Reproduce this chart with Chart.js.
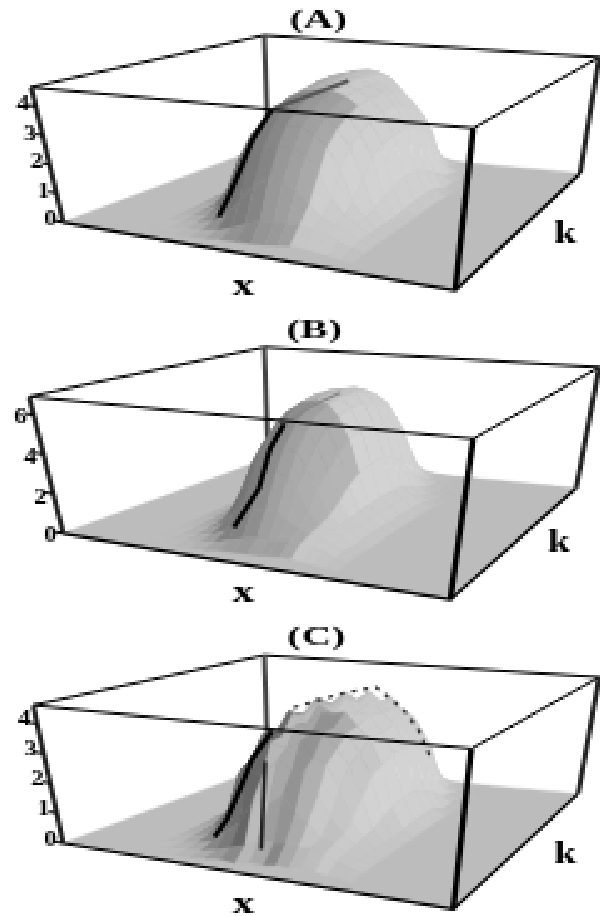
<!DOCTYPE html>
<html lang="en">
<head>
  <meta charset="UTF-8" />
  <title>Surface plots (A) (B) (C)</title>
  <script src="https://cdn.jsdelivr.net/npm/chart.js"></script>
  <style>
    html, body { margin: 0; padding: 0; background: #fff; }
    #wrap { position: relative; width: 600px; height: 916px; overflow: hidden; }
    canvas { position: absolute; left: 0; image-rendering: pixelated; }
  </style>
</head>
<body>
  <div id="wrap">
    <canvas id="panelA" width="600" height="310" style="top:0"></canvas>
    <canvas id="panelB" width="600" height="307" style="top:310px"></canvas>
    <canvas id="panelC" width="600" height="299" style="top:617px"></canvas>
  </div>

  <script>
    // surface grid, x along the front-left edge and k along the front-right edge (both 0..1)
    const xGridAC = [0.181, 0.22, 0.259, 0.298, 0.337, 0.376, 0.415, 0.454, 0.49, 0.522, 0.555, 0.588, 0.622, 0.655, 0.688, 0.72];
    const xGridB = [0.188, 0.225, 0.263, 0.30, 0.338, 0.375, 0.413, 0.45, 0.48, 0.505, 0.535, 0.565, 0.595, 0.625, 0.655, 0.685];
    const kGrid = [0.06, 0.12, 0.18, 0.24, 0.29, 0.35, 0.41, 0.47, 0.54, 0.62, 0.68, 0.74, 0.80, 0.85, 0.90, 0.95, 0.99];

    // heights, one row per k value
    const heightsA = [
      [0, 0, 0, 0, .05, .08, .1, .12, .15, .2, .25, .25, .2, .15, .1, .05],
      [0, 0, .01, .06, .12, .28, .5, .68, .7, .7, .7, .65, .55, .4, .25, .15],
      [0, 0, .06, .14, .48, 1.05, 1.6, 1.87, 1.85, 1.6, 1.2, .85, .7, .5, .3, .15],
      [0, .05, .12, .48, 1.3, 2.18, 2.65, 2.8, 2.8, 2.6, 2.05, 1.3, .8, .55, .3, .15],
      [0, .07, .28, 1.1, 2.2, 2.87, 3.2, 3.4, 3.38, 3.15, 2.8, 2.1, 1.1, .6, .3, .15],
      [.03, .1, .64, 1.85, 2.8, 3.35, 3.65, 3.8, 3.78, 3.6, 3.25, 2.7, 1.65, .7, .3, .15],
      [.05, .2, 1.0, 2.35, 3.1, 3.65, 3.9, 4.05, 4.05, 3.87, 3.55, 3.0, 2.2, .9, .3, .15],
      [.06, .27, 1.35, 2.65, 3.35, 3.82, 4.1, 4.2, 4.2, 4.05, 3.75, 3.25, 2.5, 1.05, .35, .15],
      [.06, .3, 1.55, 2.75, 3.45, 3.92, 4.15, 4.28, 4.27, 4.1, 3.85, 3.4, 2.65, 1.2, .4, .15],
      [.06, .3, 1.5, 2.85, 3.6, 4.05, 4.3, 4.4, 4.35, 4.1, 3.85, 3.42, 2.65, 1.15, .4, .15],
      [.06, .25, 1.3, 2.75, 3.5, 4.05, 4.25, 4.4, 4.3, 4.0, 3.72, 3.2, 2.45, 1.0, .35, .12],
      [.05, .18, .9, 2.4, 3.3, 3.9, 4.2, 4.3, 4.2, 3.9, 3.5, 2.95, 2.1, .66, .11, .03],
      [.03, .1, .55, 2.1, 3.3, 3.85, 4.05, 4.05, 3.85, 3.4, 3.0, 2.5, 1.5, .35, .08, .01],
      [0, .07, .25, 1.2, 2.7, 3.4, 3.6, 3.6, 3.3, 2.8, 2.4, 1.8, .77, .18, .05, 0],
      [0, .03, .1, .6, 1.7, 2.6, 3.0, 3.0, 2.7, 2.1, 1.5, .8, .28, .08, .02, 0],
      [0, 0, .05, .1, .32, .8, 1.3, 1.58, 1.55, 1.2, .72, .28, .1, .04, 0, 0],
      [0, 0, .02, .07, .13, .28, .48, .62, .6, .45, .25, .1, .05, .01, 0, 0]
    ];

    const heightsB = [
      [0, 0, 0, .01, .06, .12, .17, .19, .2, .25, .3, .3, .25, .2, .12, .06],
      [0, 0, .01, .07, .16, .36, .55, .66, .65, .7, .75, .75, .65, .5, .3, .15],
      [0, 0, .05, .16, .47, 1.08, 1.68, 1.86, 1.7, 1.4, 1.1, .95, .8, .6, .35, .2],
      [0, .02, .12, .41, 1.26, 2.38, 3.24, 3.42, 3.24, 2.6, 1.7, 1.1, .9, .65, .35, .2],
      [0, .04, .18, .82, 2.16, 3.54, 4.26, 4.44, 4.26, 3.6, 2.5, 1.3, .95, .7, .4, .2],
      [0, .08, .36, 1.5, 3.24, 4.44, 5.1, 5.28, 5.1, 4.44, 3.24, 1.7, 1.0, .75, .4, .2],
      [.01, .12, .56, 2.16, 3.96, 5.1, 5.76, 5.94, 5.76, 5.1, 3.96, 2.3, 1.1, .75, .4, .2],
      [.02, .14, .78, 2.58, 4.38, 5.52, 6.06, 6.24, 6.06, 5.52, 4.38, 2.7, 1.15, .8, .4, .2],
      [.02, .17, .9, 2.88, 4.62, 5.7, 6.24, 6.36, 6.24, 5.7, 4.62, 2.95, 1.2, .8, .4, .2],
      [.02, .16, .86, 2.82, 4.56, 5.66, 6.22, 6.34, 6.22, 5.66, 4.56, 2.9, 1.2, .8, .4, .2],
      [.02, .14, .74, 2.52, 4.32, 5.46, 6.04, 6.2, 6.04, 5.46, 4.32, 2.6, 1.1, .7, .35, .15],
      [.01, .11, .53, 2.04, 3.84, 5.02, 5.64, 5.84, 5.64, 5.02, 3.84, 2.1, .8, .4, .15, 0],
      [0, .07, .31, 1.32, 3.0, 4.26, 4.98, 5.16, 4.98, 4.26, 3.0, 1.32, .4, .12, 0, 0],
      [0, .04, .17, .72, 1.92, 3.3, 4.02, 4.26, 4.02, 3.3, 1.92, .72, .17, .04, 0, 0],
      [0, .01, .1, .3, .96, 1.92, 2.64, 2.94, 2.64, 1.92, .96, .3, .1, .01, 0, 0],
      [0, 0, .04, .13, .34, .78, 1.26, 1.44, 1.26, .78, .34, .13, .04, 0, 0, 0],
      [0, 0, .01, .06, .14, .29, .47, .54, .47, .29, .14, .06, .01, 0, 0, 0]
    ];

    const heightsC = [
      [0, 0, 0, .02, .05, .12, .06, .16, .15, .22, .2, .28, .2, .15, .1, .05],
      [0, 0, .01, .06, .14, .3, .44, .75, .65, .72, .65, .7, .55, .4, .25, .15],
      [0, 0, .08, .16, .6, .95, 1.75, 1.7, 2.0, 1.5, 1.25, .8, .7, .5, .3, .15],
      [0, .05, .14, .6, 1.15, 2.35, 2.45, 3.0, 2.7, 2.75, 1.95, 1.3, .8, .55, .3, .15],
      [0, .07, .34, 1.0, 2.4, 2.7, 3.4, 3.25, 3.55, 3.05, 2.85, 2.1, 1.1, .6, .3, .15],
      [.03, .12, .55, 2.0, 2.6, 3.55, 3.45, 3.95, 3.65, 3.7, 3.2, 2.7, 1.65, .7, .3, .15],
      [.05, .2, 1.15, 2.15, 3.3, 3.45, 4.1, 3.85, 4.2, 3.75, 3.6, 3.0, 2.2, .9, .3, .15],
      [.06, .3, 1.2, 2.85, 3.1, 4.0, 3.9, 4.35, 4.05, 4.15, 3.7, 3.3, 2.45, 1.05, .35, .15],
      [.06, .3, 1.7, 2.55, 3.65, 3.7, 4.35, 4.1, 4.4, 3.95, 3.9, 3.35, 2.7, 1.2, .4, .15],
      [.06, .28, 1.35, 2.95, 3.25, 4.1, 3.95, 4.4, 4.1, 4.2, 3.8, 3.45, 2.6, 1.15, .4, .15],
      [.06, .25, 1.45, 2.4, 3.5, 3.6, 4.2, 4.0, 4.35, 3.85, 3.8, 3.15, 2.5, .95, .35, .12],
      [.05, .18, .8, 2.4, 2.85, 3.8, 3.7, 4.15, 3.85, 3.95, 3.45, 3.0, 2.05, .7, .11, .03],
      [.03, .1, .65, 1.5, 2.9, 3.05, 3.75, 3.55, 3.85, 3.4, 3.2, 2.55, 1.55, .33, .08, .01],
      [0, .07, .2, 1.05, 1.85, 2.95, 2.9, 3.4, 3.1, 3.1, 2.6, 1.95, .72, .2, .05, 0],
      [0, .03, .1, .45, .9, 2.1, 2.3, 2.8, 2.5, 2.5, 1.75, .95, .25, .08, .02, 0],
      [0, 0, .05, .14, .28, .9, 1.2, 1.7, 1.45, 1.25, .7, .28, .1, .04, 0, 0],
      [0, 0, .02, .07, .15, .24, .55, .58, .66, .42, .25, .1, .05, .01, 0, 0]
    ];

    // dark crease on the left of each dome: x, k, height
    const creaseA = [[.27, .27, 0], [.285, .30, .6], [.31, .34, 1.7], [.325, .37, 2.5], [.355, .42, 3.5]];
    const creaseB = [[.30, .30, 0], [.33, .39, 1.7], [.35, .42, 3.7], [.37, .46, 4.9]];
    const creaseC = [[.26, .27, 0], [.285, .30, .6], [.31, .34, 1.7], [.325, .37, 2.5], [.355, .42, 3.4]];
    const streakC = [[.42, .2, .1], [.44, .2, 3.0]];

    // softer lines on the cap of the dome
    const capA = [[.355, .42, 3.5], [.42, .44, 3.9], [.42, .70, 3.95]];
    const capB = [[.37, .46, 4.9], [.40, .55, 5.6], [.40, .70, 5.8]];
    const capC = [[.18, .85, 3.0], [.33, .85, 3.75], [.42, .85, 4.05], [.5, .85, 3.3], [.55, .85, 2.53], [.59, .85, 1.53]];

    const ticksA = [0, 1, 2, 3, 4];
    const ticksB = [0, 2, 4, 6];
    const ticksC = [0, 1, 2, 3, 4];

    // where the box corners land in each panel (floor and lid: left, front, right, back)
    const camA = { floor: [[63, 222], [455, 290], [580, 173], [268, 145]], lid: [[31, 87], [473, 128], [599, 57], [264, 35]], zMax: 4.65 };
    const camB = { floor: [[63, 222], [450, 288], [576, 177], [268, 147]], lid: [[29, 86], [473, 128], [599, 57], [264, 37]], zMax: 6.9 };
    const camC = { floor: [[63, 225], [453, 291], [578, 176], [268, 148]], lid: [[33, 88], [471, 131], [599, 60], [264, 38]], zMax: 4.6 };

    // shading per grid column, front half of the dome and back half
    const toneFrontA = [-58, -58, -58, -58, -56, -54, -50, -46, -42, -36, 0, 0, 0, 0, 0];
    const toneFrontB = [-55, -55, -55, -55, -52, -50, -46, -40, -36, -34, -30, 0, 0, 0, 0];
    const toneFrontC = [-60, -60, -60, -60, -60, -75, 0, -30, -55, -30, -5, -10, 0, -5, 0];
    const toneBack = [-30, -30, -30, -25, -20, -15, -10, -5, 0, 0, 0, 0, 0, 0, 0];

    const FLOOR_GRAY = 188;

    function project(cam, x, k, z) {
      const corner = (c) => {
        const fx = c[0][0] + x * (c[1][0] - c[0][0]), fy = c[0][1] + x * (c[1][1] - c[0][1]);
        const bx = c[3][0] + x * (c[2][0] - c[3][0]), by = c[3][1] + x * (c[2][1] - c[3][1]);
        return [fx + k * (bx - fx), fy + k * (by - fy)];
      };
      const a = corner(cam.floor), b = corner(cam.lid), w = z / cam.zMax;
      return { x: a[0] + w * (b[0] - a[0]), y: a[1] + w * (b[1] - a[1]) };
    }

    function polygon(points, gray) {
      const c = `rgb(${gray},${gray},${gray})`;
      return { data: points.concat([points[0]]), fill: 'shape', backgroundColor: c, borderColor: c, borderWidth: 1, pointRadius: 0, tension: 0 };
    }

    function line(points, color, width, dash) {
      return { data: points, fill: false, borderColor: color, borderWidth: width, borderDash: dash || [], pointRadius: 0, tension: 0 };
    }

    // left-facing slopes go dark, right-facing slopes go a little lighter
    function cellGray(cam, h00, h10, h01, h11, dx, tone) {
      const n = 4.65 / cam.zMax;
      const dzdx = n * ((h10 + h11) - (h00 + h01)) / 2 / dx;
      const mid = n * (h00 + h10 + h01 + h11) / 4;
      const body = Math.min(1, mid * 3);
      let g = FLOOR_GRAY + body * (10 + tone);
      if (dzdx > 0) g -= 10 * Math.tanh(dzdx / 3) + 30 * Math.tanh(dzdx / 30);
      else g += 14 * Math.tanh(-dzdx / 25);
      return Math.round(g);
    }

    function buildDatasets(cam, cfg) {
      const sets = [];
      const p = (x, k, z) => project(cam, x, k, z);
      const top = cam.zMax;
      const xGrid = cfg.xGrid, heights = cfg.heights;

      // back of the box, then floor, then the surface back to front
      sets.push(line([p(0, 0, top), p(0, 1, top), p(1, 1, top)], '#000', 2.5));
      sets.push(line([p(0, 1, top), p(0, 1, 0)], '#444', 5));
      sets.push(polygon([p(0, 0, 0), p(1, 0, 0), p(1, 1, 0), p(0, 1, 0)], FLOOR_GRAY));

      for (let j = kGrid.length - 2; j >= 0; j--) {
        for (let i = 0; i < xGrid.length - 1; i++) {
          const h00 = heights[j][i], h10 = heights[j][i + 1], h01 = heights[j + 1][i], h11 = heights[j + 1][i + 1];
          const tone = kGrid[j] < 0.45 ? cfg.front[i] : toneBack[i];
          const gray = cellGray(cam, h00, h10, h01, h11, xGrid[i + 1] - xGrid[i], tone);
          sets.push(polygon([
            p(xGrid[i], kGrid[j], h00), p(xGrid[i + 1], kGrid[j], h10),
            p(xGrid[i + 1], kGrid[j + 1], h11), p(xGrid[i], kGrid[j + 1], h01)
          ], gray));
        }
      }

      sets.push(line(cfg.cap.map(c => p(c[0], c[1], c[2])), cfg.capColor, cfg.capWidth, cfg.capDash));
      sets.push(line(cfg.crease.map(c => p(c[0], c[1], c[2])), '#000', 5));
      if (cfg.streak.length) sets.push(line(cfg.streak.map(c => p(c[0], c[1], c[2])), '#222', 4));

      // front of the box
      sets.push(line([p(0, 0, 0), p(1, 0, 0), p(1, 1, 0)], '#000', 3));
      sets.push(line([p(0, 0, top), p(1, 0, top), p(1, 1, top)], '#000', 2.5));
      sets.push(line([p(0, 0, top), p(0, 0, 0)], '#222', 5));
      sets.push(line([p(1, 0, top), p(1, 0, 0)], '#000', 6));
      sets.push(line([p(1, 1, top), p(1, 1, 0)], '#222', 5));
      cfg.ticks.forEach(t => sets.push(line([p(-0.02, 0, t), p(0, 0, t)], '#000', 2.5)));

      return sets.reverse(); // Chart.js paints the last dataset first
    }

    const textPlugin = {
      id: 'panelText',
      afterDraw(chart, args, opts) {
        const { ctx, scales } = chart;
        const put = (text, x, y, size, stretch) => {
          ctx.save();
          ctx.translate(scales.x.getPixelForValue(x), scales.y.getPixelForValue(y));
          ctx.scale(stretch, 1);
          ctx.font = `bold ${size}px "Liberation Serif", serif`;
          ctx.fillStyle = '#000';
          ctx.textAlign = 'center';
          ctx.textBaseline = 'middle';
          ctx.fillText(text, 0, 0);
          ctx.restore();
        };
        put(opts.title, opts.titleAt[0], opts.titleAt[1], 26, 1.6);
        put('x', opts.xAt[0], opts.xAt[1], 30, 1.5);
        put('k', opts.kAt[0], opts.kAt[1], 30, 1.35);
        opts.ticks.forEach(t => {
          const q = project(opts.cam, 0, 0, t);
          put(String(t), q.x - 13, q.y + opts.tickShift, 20, 1.3);
        });
      }
    };

    function makePanel(id, height, cam, cfg) {
      new Chart(document.getElementById(id), {
        type: 'line',
        data: { datasets: buildDatasets(cam, cfg) },
        plugins: [textPlugin],
        options: {
          responsive: false,
          animation: false,
          devicePixelRatio: 0.4,
          parsing: false,
          normalized: true,
          layout: { padding: 0 },
          scales: {
            x: { type: 'linear', min: 0, max: 600, display: false },
            y: { type: 'linear', min: 0, max: height, reverse: true, display: false }
          },
          plugins: {
            legend: { display: false },
            tooltip: { enabled: false },
            panelText: { cam, ticks: cfg.ticks, title: cfg.title, titleAt: cfg.titleAt, xAt: cfg.xAt, kAt: cfg.kAt, tickShift: cfg.tickShift }
          }
        }
      });
    }

    makePanel('panelA', 310, camA, { xGrid: xGridAC, heights: heightsA, front: toneFrontA, crease: creaseA, streak: [], cap: capA, capColor: '#555', capWidth: 4, capDash: [], ticks: ticksA, title: '(A)', titleAt: [318, 20], xAt: [243, 287], kAt: [565, 235], tickShift: -1 });
    makePanel('panelB', 307, camB, { xGrid: xGridB, heights: heightsB, front: toneFrontB, crease: creaseB, streak: [], cap: capB, capColor: '#888', capWidth: 3, capDash: [], ticks: ticksB, title: '(B)', titleAt: [314, 20], xAt: [243, 283], kAt: [559, 233], tickShift: 4 });
    makePanel('panelC', 299, camC, { xGrid: xGridAC, heights: heightsC, front: toneFrontC, crease: creaseC, streak: streakC, cap: capC, capColor: '#333', capWidth: 3, capDash: [5, 7], ticks: ticksC, title: '(C)', titleAt: [316, 21], xAt: [243, 286], kAt: [565, 238], tickShift: -3 });
  </script>
</body>
</html>
